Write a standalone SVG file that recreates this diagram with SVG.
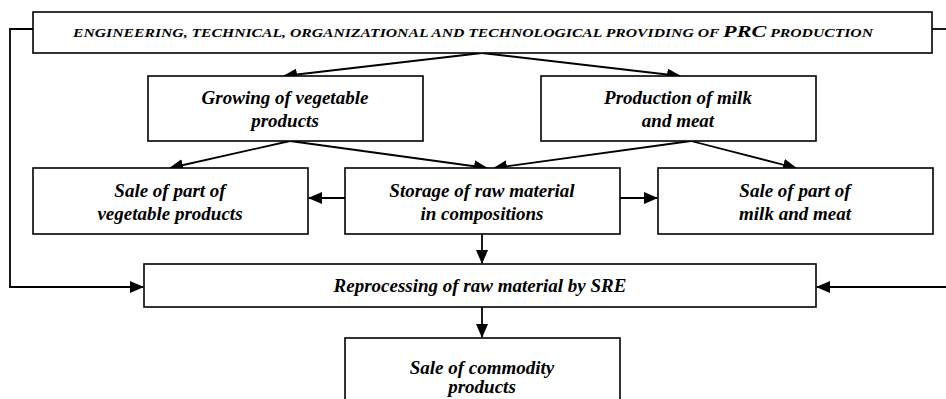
<svg xmlns="http://www.w3.org/2000/svg" width="946" height="399" viewBox="0 0 946 399">
<style>
.box{fill:#fff;stroke:#000;stroke-width:1.6}
.t{font-family:'Liberation Serif','Times New Roman','DejaVu Serif',serif;font-weight:700;font-style:italic;font-size:19px;text-anchor:middle;fill:#000}
.c{fill:none;stroke:#000;stroke-width:1.8}
</style>
<defs>
<marker id="ah" markerUnits="userSpaceOnUse" markerWidth="14" markerHeight="12" refX="13" refY="6" orient="auto">
<path d="M0,0 L14,6 L0,12 Z" fill="#000"/>
</marker>
</defs>
<g id="connectors">
<path class="c" d="M33,29 H10 V287 H143" marker-end="url(#ah)"/>
<path class="c" d="M932,29 H946"/>
<path class="c" d="M946,287 H817" marker-end="url(#ah)"/>
<path class="c" d="M482,53 L284,76" marker-end="url(#ah)"/>
<path class="c" d="M482,53 L680,76" marker-end="url(#ah)"/>
<path class="c" d="M290,141 L170,168" marker-end="url(#ah)"/>
<path class="c" d="M290,141 L487,168" marker-end="url(#ah)"/>
<path class="c" d="M691,141 L494,168" marker-end="url(#ah)"/>
<path class="c" d="M691,141 L796,168" marker-end="url(#ah)"/>
<path class="c" d="M345,198 H309" marker-end="url(#ah)"/>
<path class="c" d="M620,198 H657" marker-end="url(#ah)"/>
<path class="c" d="M482,233 V263" marker-end="url(#ah)"/>
<path class="c" d="M482,307 V337" marker-end="url(#ah)"/>
</g>
<g id="top">
<rect class="box" x="33" y="12" width="899" height="41"/>
<text class="t" x="473" y="37" textLength="800" lengthAdjust="spacingAndGlyphs" style="font-size:12px">ENGINEERING, TECHNICAL, ORGANIZATIONAL AND TECHNOLOGICAL PROVIDING OF <tspan style="font-size:17px">PRC</tspan> PRODUCTION</text>
</g>
<g id="growing">
<rect class="box" x="148" y="76" width="275" height="65"/>
<text class="t" x="285" y="104">Growing of vegetable</text>
<text class="t" x="285" y="127">products</text>
</g>
<g id="production">
<rect class="box" x="541" y="76" width="275" height="65"/>
<text class="t" x="678" y="104">Production of milk</text>
<text class="t" x="678" y="127">and meat</text>
</g>
<g id="saleveg">
<rect class="box" x="33" y="168" width="275" height="66"/>
<text class="t" x="170" y="197">Sale of part of</text>
<text class="t" x="170" y="220">vegetable products</text>
</g>
<g id="storage">
<rect class="box" x="345" y="168" width="275" height="66"/>
<text class="t" x="482" y="197">Storage of raw material</text>
<text class="t" x="482" y="220">in compositions</text>
</g>
<g id="salemilk">
<rect class="box" x="658" y="168" width="275" height="66"/>
<text class="t" x="795" y="197">Sale of part of</text>
<text class="t" x="795" y="220">milk and meat</text>
</g>
<g id="reprocessing">
<rect class="box" x="144" y="264" width="672" height="43"/>
<text class="t" x="480" y="292">Reprocessing of raw material by SRE</text>
</g>
<g id="commodity">
<rect class="box" x="345" y="338" width="275" height="75"/>
<text class="t" x="482" y="374">Sale of commodity</text>
<text class="t" x="482" y="393">products</text>
</g>
</svg>
